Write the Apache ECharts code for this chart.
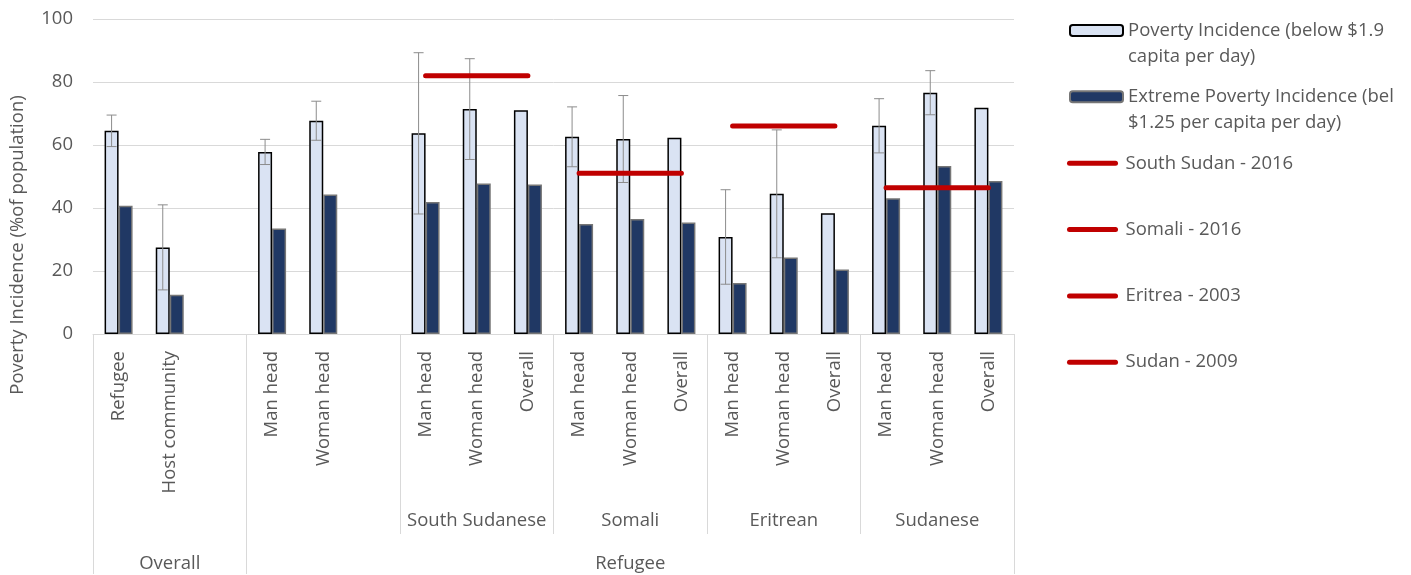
<!DOCTYPE html>
<html>
<head>
<meta charset="utf-8">
<title>Poverty incidence</title>
<script src="https://cdn.jsdelivr.net/npm/echarts@6/dist/echarts.min.js"></script>
<style>
  html, body { margin: 0; padding: 0; background: #fff; }
  #chart { width: 1411px; height: 575px; }
</style>
</head>
<body>
<div id="chart"></div>
<script>
// first level of the x axis (empty strings are the spacer slots)
const categories = ['Refugee', 'Host community', '', 'Man head', 'Woman head', '',
  'Man head', 'Woman head', 'Overall', 'Man head', 'Woman head', 'Overall',
  'Man head', 'Woman head', 'Overall', 'Man head', 'Woman head', 'Overall']
// second and third level, three slots each
const groupLabels = ['', '', 'South Sudanese', 'Somali', 'Eritrean', 'Sudanese']
const topLabels = ['Overall', '', '', 'Refugee', '', '']

const barNames = ['Poverty Incidence (below $1.9\ncapita per day)', 'Extreme Poverty Incidence (bel\n$1.25 per capita per day)']
const povertyRate = [64.5, 27.5, null, 57.8, 67.7, null, 63.7, 71.4, 71.0, 62.6, 61.9, 62.3, 30.8, 44.5, 38.3, 66.1, 76.6, 71.8]
const extremeRate = [40.7, 12.5, null, 33.5, 44.3, null, 41.9, 47.8, 47.5, 34.9, 36.5, 35.4, 16.2, 24.3, 20.5, 43.1, 53.3, 48.6]
const povertyErr = [5, 13.5, null, 4, 6.2, null, 25.6, 16, null, 9.5, 13.8, null, 15, 20.3, null, 8.6, 7, null]

// national reference lines, drawn over the three bars of a group
const refNames = ['South Sudan - 2016', 'Somali - 2016', 'Eritrea - 2003', 'Sudan - 2009']
const refValues = [82, 51, 66, 46.4]
const refStart = [6, 9, 12, 15]

const yTicks = [0, 20, 40, 60, 80, 100]

const textColor = '#595959'
const lineColor = '#d9d9d9'
const font = 'Open Sans'
const fontSize = 18.5
const barWidth = 14

const chart = echarts.init(document.getElementById('chart'))

const errData = []
povertyErr.forEach(function(e, i) {
  if (e != null) errData.push([i, povertyRate[i] - e, povertyRate[i] + e])
})

const refSeries = refNames.map(function(name, k) {
  return {
    name: name,
    type: 'line',
    z: 6,
    symbol: 'none',
    lineStyle: { color: '#c00000', width: 5, cap: 'round' },
    itemStyle: { color: '#c00000' },
    data: categories.map(function(c, i) {
      return i >= refStart[k] && i < refStart[k] + 3 ? refValues[k] : null
    })
  }
})

const legendText = { color: textColor, fontFamily: font, fontSize: fontSize, lineHeight: 26 }
// stadium shape for the red line keys
const lineIcon = 'path://M2.5,0L48.5,0A2.5,2.5,0,0,1,48.5,5L2.5,5A2.5,2.5,0,0,1,2.5,0Z'

const option = {
  animation: false,
  textStyle: { fontFamily: font },
  grid: { left: 93, right: 397, top: 19, bottom: 241 },
  legend: [{
    data: [barNames[0]],
    left: 1069,
    top: -8.5,
    padding: 0,
    itemWidth: 53,
    itemHeight: 11,
    // blank first line puts the icon level with the first text line
    formatter: function(name) { return '\n' + name },
    textStyle: legendText
  }, {
    data: [barNames[1]],
    left: 1069,
    top: 57.7,
    padding: 0,
    itemWidth: 53,
    itemHeight: 11,
    formatter: function(name) { return '\n' + name },
    textStyle: legendText
  }, {
    data: refNames,
    orient: 'vertical',
    left: 1067,
    top: 150.3,
    padding: 0,
    icon: lineIcon,
    itemWidth: 56,
    itemHeight: 5,
    itemGap: 40.3,
    textStyle: legendText
  }],
  graphic: [{
    type: 'text',
    x: 18,
    y: 245,
    rotation: Math.PI / 2,
    style: {
      text: 'Poverty Incidence (%of population)',
      fill: textColor,
      font: fontSize + 'px "' + font + '"',
      align: 'center',
      verticalAlign: 'middle'
    }
  }],
  xAxis: [{
    type: 'category',
    position: 'bottom',
    data: categories,
    axisLine: { lineStyle: { color: lineColor, width: 1 } },
    axisTick: { show: false },
    axisLabel: { rotate: 90, interval: 0, margin: 17, color: textColor, fontSize: fontSize, fontFamily: font }
  }, {
    type: 'category',
    position: 'bottom',
    data: groupLabels,
    axisLine: { show: false },
    axisTick: { show: true, interval: 0, length: 200, lineStyle: { color: lineColor } },
    axisLabel: { interval: 0, margin: 177, color: textColor, fontSize: fontSize, fontFamily: font }
  }, {
    type: 'category',
    position: 'bottom',
    data: topLabels,
    axisLine: { show: false },
    axisTick: {
      show: true,
      length: 240,
      lineStyle: { color: lineColor },
      interval: function(index) { return index <= 1 }
    },
    axisLabel: { interval: 0, margin: 220, color: textColor, fontSize: fontSize, fontFamily: font }
  }],
  yAxis: {
    type: 'value',
    min: yTicks[0],
    max: yTicks[yTicks.length - 1],
    interval: yTicks[1] - yTicks[0],
    axisLine: { show: false },
    axisTick: { show: false },
    splitLine: { lineStyle: { color: lineColor } },
    axisLabel: { margin: 20, color: textColor, fontSize: fontSize, fontFamily: font }
  },
  series: [{
    name: barNames[0],
    type: 'bar',
    barWidth: barWidth,
    barGap: '0%',
    itemStyle: { color: '#dae3f3', borderColor: '#000', borderWidth: 1.5 },
    data: povertyRate
  }, {
    name: barNames[1],
    type: 'bar',
    barWidth: barWidth,
    itemStyle: { color: '#203864', borderColor: '#767676', borderWidth: 1.5 },
    data: extremeRate
  }, {
    name: 'error',
    type: 'custom',
    z: 4,
    data: errData,
    renderItem: function(params, api) {
      const lo = api.coord([api.value(0), api.value(1)])
      const hi = api.coord([api.value(0), api.value(2)])
      const x = lo[0] - barWidth / 2
      const cap = 5
      const style = { stroke: '#8c8c8c', lineWidth: 1 }
      return {
        type: 'group',
        children: [
          { type: 'line', shape: { x1: x, y1: hi[1], x2: x, y2: lo[1] }, style: style },
          { type: 'line', shape: { x1: x - cap, y1: hi[1], x2: x + cap, y2: hi[1] }, style: style },
          { type: 'line', shape: { x1: x - cap, y1: lo[1], x2: x + cap, y2: lo[1] }, style: style }
        ]
      }
    }
  }].concat(refSeries)
}

chart.setOption(option)
</script>
</body>
</html>
